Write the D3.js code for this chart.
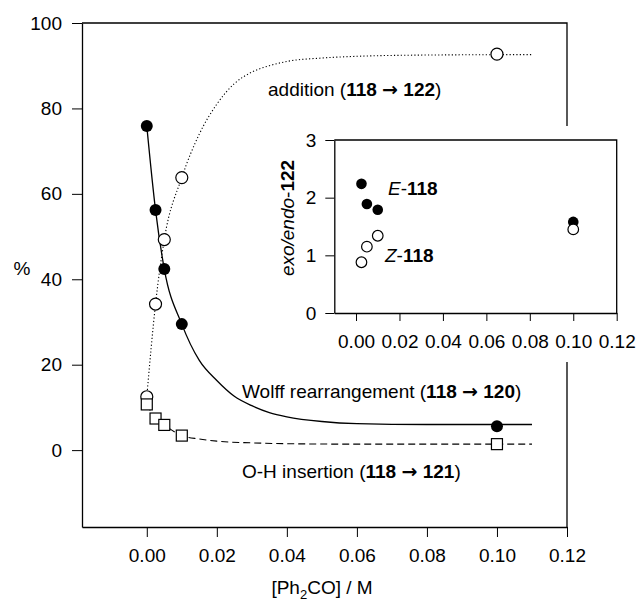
<!DOCTYPE html>
<html>
<head>
<meta charset="utf-8">
<script src="https://cdn.jsdelivr.net/npm/d3@7"></script>
<style>
  body { margin: 0; background: #fff; }
  svg { display: block; font-family: 'Liberation Sans', Arial, Helvetica, sans-serif; }
  .axis text { font-size: 19px; fill: #000; }
  .axis path, .axis line { stroke: #000; }
  .arrow { font-family: 'DejaVu Sans', sans-serif; }
</style>
</head>
<body>
<div id="view"></div>
<script>
'use strict';

// measured points, main panel
const concX = [0, 0.0025, 0.005, 0.01, 0.1];
const wolffPct = [75.9, 56.2, 42.4, 29.5, 5.6];
const additionPct = [12.5, 34.2, 49.3, 63.8, 92.7];
const insertionPct = [10.7, 7.4, 5.9, 3.4, 1.4];

// fitted curves
const wolffCurveX = [0, 0.0025, 0.005, 0.01, 0.015, 0.02, 0.025, 0.03, 0.035, 0.04, 0.05, 0.06, 0.08, 0.11];
const wolffCurveY = [75.9, 56.2, 42.4, 29.5, 21, 16.3, 12.6, 10.4, 8.8, 7.8, 6.7, 6.2, 6.0, 6.0];
const additionCurveX = [0, 0.0025, 0.005, 0.01, 0.015, 0.02, 0.025, 0.03, 0.035, 0.04, 0.05, 0.06, 0.08, 0.11];
const additionCurveY = [12.5, 34.2, 49.3, 63.8, 74, 81, 85.8, 88.5, 90, 91, 91.8, 92.2, 92.5, 92.6];
const insertionCurveX = [0, 0.0025, 0.005, 0.01, 0.015, 0.02, 0.03, 0.04, 0.06, 0.11];
const insertionCurveY = [10.7, 7.4, 5.9, 3.4, 2.6, 2.1, 1.7, 1.5, 1.4, 1.4];

// inset: exo/endo ratio
const insetX = [0.0025, 0.005, 0.01, 0.1];
const eRatio = [2.24, 1.89, 1.79, 1.58];
const zRatio = [0.88, 1.15, 1.34, 1.45];

const mainXTicks = [0, 0.02, 0.04, 0.06, 0.08, 0.1, 0.12];
const mainYTicks = [0, 20, 40, 60, 80, 100];
const insetXTicks = [0, 0.02, 0.04, 0.06, 0.08, 0.1, 0.12];
const insetYTicks = [0, 1, 2, 3];

const size = { w: 637, h: 603 };
const main = { left: 82, right: 567, top: 23, bottom: 527 };
const inset = { left: 334.3, right: 616.7, top: 140, bottom: 313 };

const svg = d3.select('#view').append('svg')
  .attr('width', size.w)
  .attr('height', size.h);

const x = d3.scaleLinear().domain([-0.0185, 0.12]).range([main.left, main.right]);
const y = d3.scaleLinear().domain([-18, 100]).range([main.bottom, main.top]);

const line = d3.line()
  .x(d => x(d[0]))
  .y(d => y(d[1]))
  .curve(d3.curveMonotoneX);

const zip = (a, b) => a.map((v, i) => [v, b[i]]);

// frame: top and right lines
svg.append('path')
  .attr('d', `M${main.left},${main.top}H${main.right}V${main.bottom}`)
  .attr('fill', 'none')
  .attr('stroke', '#000')
  .attr('stroke-width', 1.3);

svg.append('g')
  .attr('class', 'axis')
  .attr('transform', `translate(${main.left},0)`)
  .call(d3.axisLeft(y).tickValues(mainYTicks).tickFormat(d3.format('d')).tickSize(10).tickSizeOuter(0).tickPadding(10))
  .call(g => g.select('.domain').attr('stroke-width', 1.3));

svg.append('g')
  .attr('class', 'axis')
  .attr('transform', `translate(0,${main.bottom})`)
  .call(d3.axisBottom(x).tickValues(mainXTicks).tickFormat(d3.format('.2f')).tickSize(10).tickSizeOuter(0).tickPadding(12))
  .call(g => g.select('.domain').attr('stroke-width', 1.3));

// curves
svg.append('path')
  .attr('d', line(zip(additionCurveX, additionCurveY)))
  .attr('fill', 'none').attr('stroke', '#000')
  .attr('stroke-width', 1.1).attr('stroke-dasharray', '1.2,2.2');

svg.append('path')
  .attr('d', line(zip(wolffCurveX, wolffCurveY)))
  .attr('fill', 'none').attr('stroke', '#000')
  .attr('stroke-width', 1.3);

svg.append('path')
  .attr('d', line(zip(insertionCurveX, insertionCurveY)))
  .attr('fill', 'none').attr('stroke', '#000')
  .attr('stroke-width', 1.1).attr('stroke-dasharray', '7,4');

// markers
svg.append('g').selectAll('circle')
  .data(zip(concX, wolffPct))
  .join('circle')
  .attr('cx', d => x(d[0])).attr('cy', d => y(d[1]))
  .attr('r', 6).attr('fill', '#000');

svg.append('g').selectAll('circle')
  .data(zip(concX, additionPct))
  .join('circle')
  .attr('cx', d => x(d[0])).attr('cy', d => y(d[1]))
  .attr('r', 6).attr('fill', '#fff').attr('stroke', '#000').attr('stroke-width', 1.2);

svg.append('g').selectAll('rect')
  .data(zip(concX, insertionPct))
  .join('rect')
  .attr('x', d => x(d[0]) - 5.5).attr('y', d => y(d[1]) - 5.5)
  .attr('width', 11).attr('height', 11)
  .attr('fill', '#fff').attr('stroke', '#000').attr('stroke-width', 1.2);

// series labels: "name (118 -> nnn)"
function label(px, py, plain, from, to) {
  const t = svg.append('text')
    .attr('x', px).attr('y', py)
    .attr('font-size', 19);
  t.append('tspan').text(plain + ' (');
  t.append('tspan').attr('font-weight', 'bold').text(from + ' ');
  t.append('tspan').attr('class', 'arrow').attr('font-weight', 'bold').text('\u2192');
  t.append('tspan').attr('font-weight', 'bold').text(' ' + to);
  t.append('tspan').text(')');
}
label(268, 96, 'addition', '118', '122');
label(242, 398, 'Wolff rearrangement', '118', '120');
label(242, 478, 'O-H insertion', '118', '121');

svg.append('text')
  .attr('x', 22).attr('y', 268).attr('dy', '0.35em')
  .attr('text-anchor', 'middle').attr('font-size', 19)
  .text('%');

const xTitle = svg.append('text')
  .attr('x', 322).attr('y', 594)
  .attr('text-anchor', 'middle').attr('font-size', 19);
xTitle.append('tspan').text('[Ph');
xTitle.append('tspan').attr('font-size', 13).attr('dy', 5).text('2');
xTitle.append('tspan').attr('dy', -5).text('CO] / M');

// inset
const gInset = svg.append('g');
gInset.append('rect')
  .attr('x', 268).attr('y', 126)
  .attr('width', size.w - 268).attr('height', 236)
  .attr('fill', '#fff');

const xi = d3.scaleLinear().domain([-0.01, 0.12]).range([inset.left, inset.right]);
const yi = d3.scaleLinear().domain([0, 3]).range([inset.bottom, inset.top]);

gInset.append('path')
  .attr('d', `M${inset.left},${inset.top}H${inset.right}V${inset.bottom}`)
  .attr('fill', 'none').attr('stroke', '#000').attr('stroke-width', 1.3);

gInset.append('g')
  .attr('class', 'axis')
  .attr('transform', `translate(${inset.left},0)`)
  .call(d3.axisLeft(yi).tickValues(insetYTicks).tickFormat(d3.format('d')).tickSize(9).tickSizeOuter(0).tickPadding(9))
  .call(g => g.select('.domain').attr('stroke-width', 1.3));

gInset.append('g')
  .attr('class', 'axis')
  .attr('transform', `translate(0,${inset.bottom})`)
  .call(d3.axisBottom(xi).tickValues(insetXTicks).tickFormat(d3.format('.2f')).tickSize(8).tickSizeOuter(0).tickPadding(14))
  .call(g => g.select('.domain').attr('stroke-width', 1.3));

gInset.append('g').selectAll('circle')
  .data(zip(insetX, eRatio))
  .join('circle')
  .attr('cx', d => xi(d[0])).attr('cy', d => yi(d[1]))
  .attr('r', 5.3).attr('fill', '#000');

gInset.append('g').selectAll('circle')
  .data(zip(insetX, zRatio))
  .join('circle')
  .attr('cx', d => xi(d[0])).attr('cy', d => yi(d[1]))
  .attr('r', 5.3).attr('fill', '#fff').attr('stroke', '#000').attr('stroke-width', 1.2);

const yTitle = gInset.append('text')
  .attr('transform', 'translate(294,218) rotate(-90)')
  .attr('text-anchor', 'middle').attr('font-size', 19);
yTitle.append('tspan').attr('font-style', 'italic').text('exo/endo');
yTitle.append('tspan').text('-');
yTitle.append('tspan').attr('font-weight', 'bold').text('122');

function isomerLabel(px, py, letter) {
  const t = gInset.append('text').attr('x', px).attr('y', py).attr('font-size', 19);
  t.append('tspan').attr('font-style', 'italic').text(letter);
  t.append('tspan').text('-');
  t.append('tspan').attr('font-weight', 'bold').text('118');
}
isomerLabel(388, 195, 'E');
isomerLabel(385, 262, 'Z');
</script>
</body>
</html>
